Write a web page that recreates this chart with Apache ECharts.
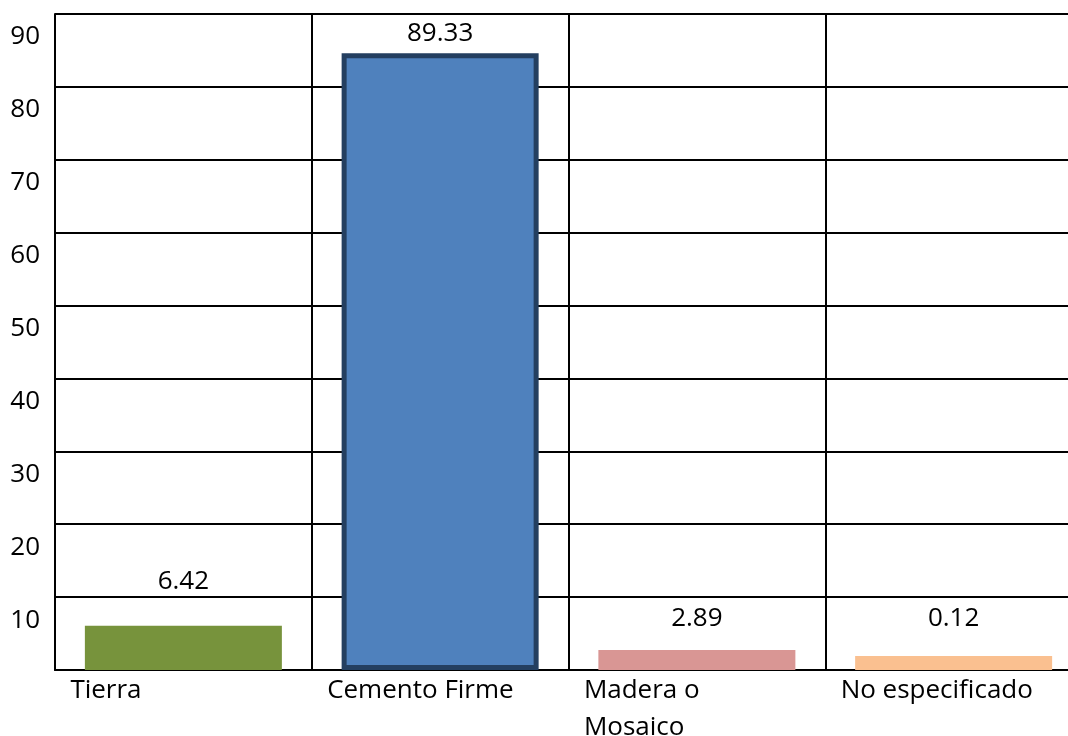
<!DOCTYPE html>
<html>
<head>
<meta charset="utf-8">
<script src="https://cdn.jsdelivr.net/npm/echarts@6/dist/echarts.min.js"></script>
<style>
  html, body { margin: 0; padding: 0; background: #fff; }
  #chart { width: 1068px; height: 736px; }
</style>
</head>
<body>
<div id="chart"></div>
<script>
const categories = ['Tierra', 'Cemento Firme', 'Madera o\nMosaico', 'No especificado'];
const values = [6.42, 89.33, 2.89, 0.12];
const barColors = ['#77933C', '#4F81BD', '#D99694', '#FAC090'];
const labelGaps = [31, 7, 18, 24];

const chart = echarts.init(document.getElementById('chart'));

const option = {
  backgroundColor: '#fff',
  textStyle: { fontFamily: 'Open Sans' },
  grid: { left: 55, top: 14, right: -14, bottom: 66, containLabel: false, outerBoundsMode: 'none' },
  xAxis: {
    type: 'category',
    data: categories,
    axisLine: { lineStyle: { color: '#000', width: 2 } },
    axisTick: { show: false },
    splitLine: { show: true, lineStyle: { color: '#000', width: 2 } },
    axisLabel: {
      interval: 0,
      margin: 2,
      color: '#000',
      fontSize: 26,
      lineHeight: 37,
      formatter: v => v.split('\n').map(s => '{a|' + s + '}').join('\n'),
      rich: { a: { width: 226, align: 'left', fontSize: 26, lineHeight: 37, color: '#000', fontFamily: 'Open Sans' } }
    }
  },
  yAxis: [
    {
      type: 'value',
      min: 0, max: 90, interval: 10,
      axisLine: { show: true, lineStyle: { color: '#000', width: 2 } },
      axisTick: { show: false },
      splitLine: { lineStyle: { color: '#000', width: 2 } },
      axisLabel: {
        color: '#000', fontSize: 26, margin: 15,
        verticalAlign: 'top', padding: [10, 0, 0, 0],
        formatter: v => (v === 0 ? '' : v)
      }
    },
    { type: 'value', min: 0, max: 95, show: false }
  ],
  series: [{
    type: 'bar',
    yAxisIndex: 1,
    barWidth: 197,
    barMinHeight: 14,
    data: values.map((v, i) => ({
      value: v,
      itemStyle: i === 1
        ? { color: barColors[i], borderColor: '#243F60', borderWidth: 5 }
        : { color: barColors[i] },
      label: { distance: labelGaps[i] }
    })),
    label: {
      show: true, position: 'top', color: '#000', fontSize: 26,
      formatter: p => p.value.toFixed(2)
    }
  }]
};

chart.setOption(option);
</script>
</body>
</html>
